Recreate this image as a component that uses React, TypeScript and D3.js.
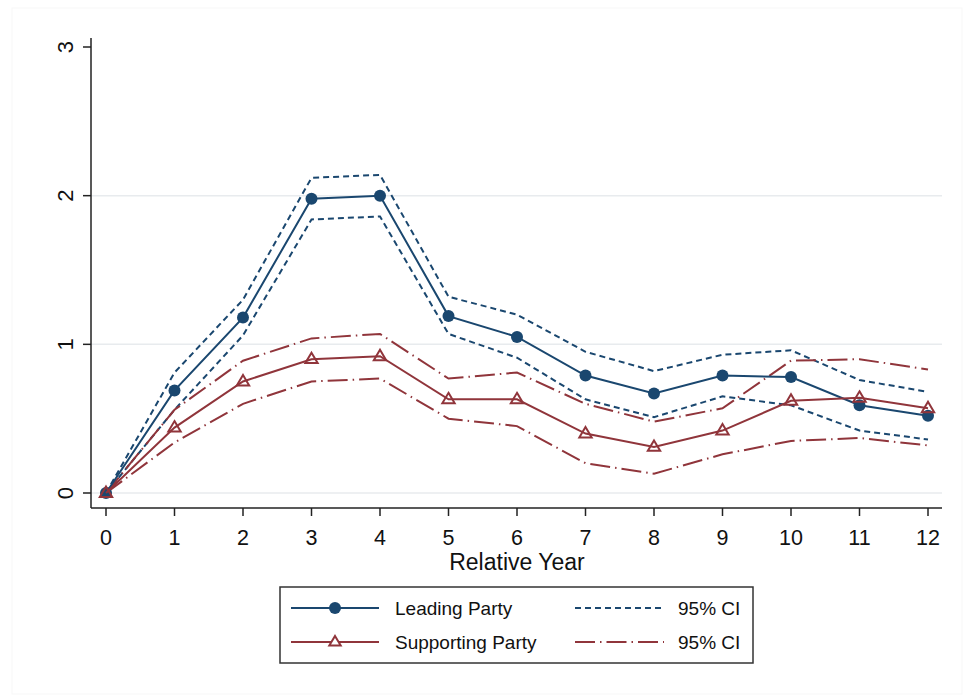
import React from "react";
import * as d3 from "d3";

const years = [0, 1, 2, 3, 4, 5, 6, 7, 8, 9, 10, 11, 12];
const leading = [0, 0.69, 1.18, 1.98, 2.0, 1.19, 1.05, 0.79, 0.67, 0.79, 0.78, 0.59, 0.52];
const leadingHi = [0, 0.81, 1.3, 2.12, 2.14, 1.32, 1.2, 0.95, 0.82, 0.93, 0.96, 0.76, 0.68];
const leadingLo = [0, 0.56, 1.06, 1.84, 1.86, 1.07, 0.91, 0.63, 0.51, 0.65, 0.59, 0.42, 0.36];
const supporting = [0, 0.44, 0.75, 0.9, 0.92, 0.63, 0.63, 0.4, 0.31, 0.42, 0.62, 0.64, 0.57];
const supportingHi = [0, 0.56, 0.89, 1.04, 1.07, 0.77, 0.81, 0.6, 0.48, 0.57, 0.89, 0.9, 0.83];
const supportingLo = [0, 0.34, 0.6, 0.75, 0.77, 0.5, 0.45, 0.2, 0.13, 0.26, 0.35, 0.37, 0.32];
const yTicks = [0, 1, 2, 3];
const gridValues = [0, 1, 2];

const NAVY = "#1a476f";
const MAROON = "#90353b";
const FONT = "'Liberation Sans', Arial, sans-serif";

const x = d3.scaleLinear().domain([0, 12]).range([106, 928]);
const y = d3.scaleLinear().domain([0, 3]).range([493, 47]);

const line = (vals: number[]) =>
  d3.line<number>().x((_, i) => x(years[i])).y((v) => y(v))(vals) || "";

const triPath = (cx: number, cy: number, s: number) =>
  `M${cx},${cy - s} L${cx + s * 0.95},${cy + s * 0.6} L${cx - s * 0.95},${cy + s * 0.6} Z`;

export default function App() {
  const axisLeft = 91;
  const axisBottom = 508;
  return (
    <svg
      width={964}
      height={696}
      style={{ position: "absolute", left: 0, top: 0, display: "block", background: "#fff" }}
      fontFamily={FONT}
    >
      <rect x={12} y={8} width={950} height={686} fill="none" stroke="#f7f7f7" strokeWidth={1} />
      {gridValues.map((g) => (
        <line key={g} x1={axisLeft} x2={942} y1={y(g)} y2={y(g)} stroke="#e8ebee" strokeWidth={1.5} />
      ))}
      {/* axes */}
      <line x1={axisLeft} x2={axisLeft} y1={38} y2={axisBottom} stroke="#222" strokeWidth={1.5} />
      <line x1={axisLeft} x2={942} y1={axisBottom} y2={axisBottom} stroke="#222" strokeWidth={1.5} />
      {yTicks.map((t) => (
        <g key={t}>
          <line x1={axisLeft - 8} x2={axisLeft} y1={y(t)} y2={y(t)} stroke="#222" strokeWidth={1.5} />
          <text
            transform={`translate(${73},${y(t)}) rotate(-90)`}
            textAnchor="middle"
            fontSize={22}
            fill="#111"
          >
            {t}
          </text>
        </g>
      ))}
      {years.map((t) => (
        <g key={t}>
          <line x1={x(t)} x2={x(t)} y1={axisBottom} y2={axisBottom + 8} stroke="#222" strokeWidth={1.5} />
          <text x={x(t)} y={545} textAnchor="middle" fontSize={21.5} fill="#111">
            {t}
          </text>
        </g>
      ))}
      <text x={517} y={570} textAnchor="middle" fontSize={23} fill="#111">
        Relative Year
      </text>

      {/* confidence bands */}
      <path d={line(leadingHi)} fill="none" stroke={NAVY} strokeWidth={2} strokeDasharray="6 4" />
      <path d={line(leadingLo)} fill="none" stroke={NAVY} strokeWidth={2} strokeDasharray="6 4" />
      <path d={line(supportingHi)} fill="none" stroke={MAROON} strokeWidth={2} strokeDasharray="20 5 1.5 5" />
      <path d={line(supportingLo)} fill="none" stroke={MAROON} strokeWidth={2} strokeDasharray="20 5 1.5 5" />

      {/* point estimates */}
      <path d={line(leading)} fill="none" stroke={NAVY} strokeWidth={2} />
      {leading.map((v, i) => (
        <circle key={i} cx={x(years[i])} cy={y(v)} r={6} fill={NAVY} />
      ))}
      <path d={line(supporting)} fill="none" stroke={MAROON} strokeWidth={2} />
      {supporting.map((v, i) => (
        <path key={i} d={triPath(x(years[i]), y(v), 6.5)} fill="none" stroke={MAROON} strokeWidth={2} />
      ))}

      {/* legend */}
      <rect x={280} y={587} width={473} height={76} fill="#fff" stroke="#333" strokeWidth={1.5} />
      <line x1={291} x2={379} y1={608} y2={608} stroke={NAVY} strokeWidth={2} />
      <circle cx={335} cy={608} r={6} fill={NAVY} />
      <text x={395} y={615} fontSize={19} fill="#111">Leading Party</text>
      <line x1={575} x2={664} y1={608} y2={608} stroke={NAVY} strokeWidth={2} strokeDasharray="6 4" />
      <text x={678} y={615} fontSize={19} fill="#111">95% CI</text>

      <line x1={291} x2={379} y1={642} y2={642} stroke={MAROON} strokeWidth={2} />
      <path d={triPath(335, 642, 6)} fill="#fff" stroke={MAROON} strokeWidth={2} />
      <text x={395} y={649} fontSize={19} fill="#111">Supporting Party</text>
      <line x1={575} x2={664} y1={642} y2={642} stroke={MAROON} strokeWidth={2} strokeDasharray="20 5 1.5 5" />
      <text x={678} y={649} fontSize={19} fill="#111">95% CI</text>
    </svg>
  );
}
